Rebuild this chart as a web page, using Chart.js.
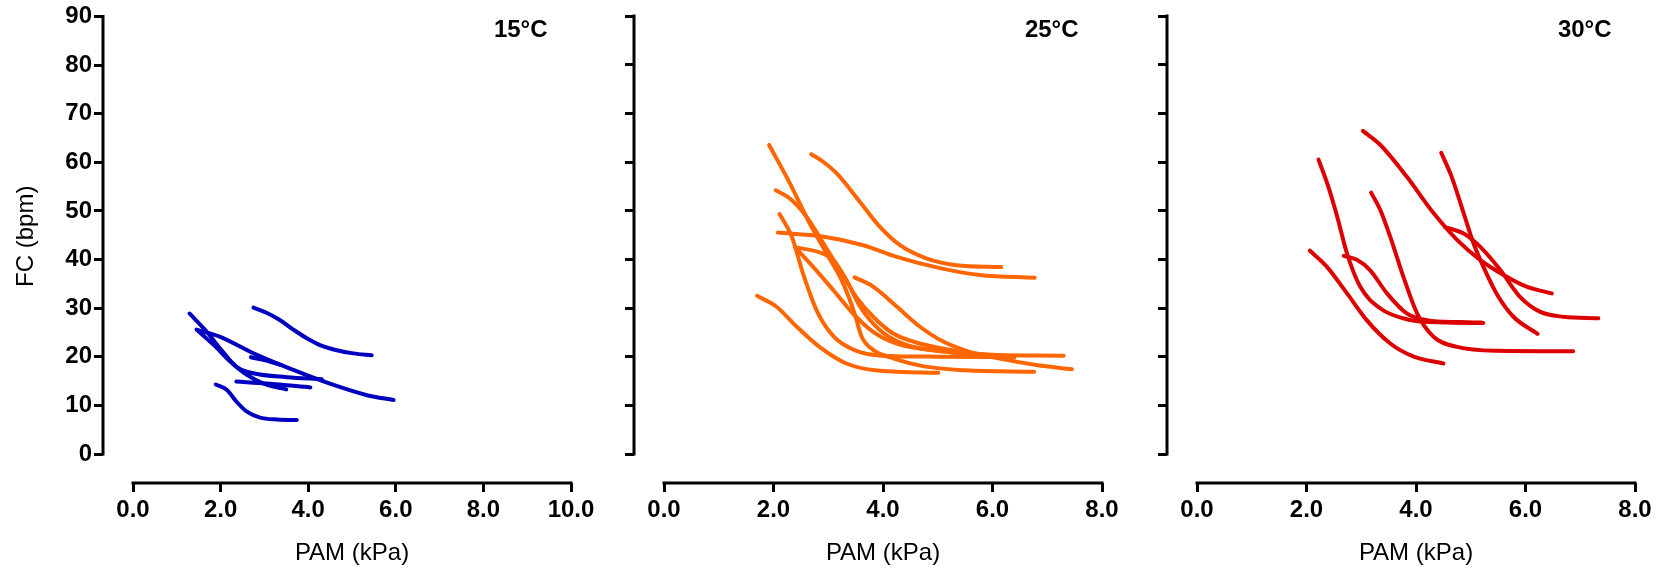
<!DOCTYPE html>
<html>
<head>
<meta charset="utf-8">
<title>FC vs PAM</title>
<script src="https://cdn.jsdelivr.net/npm/chart.js@4.4.1/dist/chart.umd.min.js"></script>
<style>
    body { margin: 0; background: #fff; }
    #wrap { position: relative; width: 1667px; height: 569px; }
    canvas { position: absolute; top: 0; }
</style>
</head>
<body>
<div id="wrap">
    <canvas id="c15" width="600" height="569" style="left:0px"></canvas>
    <canvas id="c25" width="530" height="569" style="left:600px"></canvas>
    <canvas id="c30" width="537" height="569" style="left:1130px"></canvas>
</div>
<script>
// Tick labels
const yTicks = [0, 10, 20, 30, 40, 50, 60, 70, 80, 90];
const xTicks15 = [0, 2, 4, 6, 8, 10];
const xTicks25 = [0, 2, 4, 6, 8];
const xTicks30 = [0, 2, 4, 6, 8];
const panelTitles = ['15°C', '25°C', '30°C'];

// One curve per fish, [PAM (kPa), FC (bpm)]
const curves15 = [
    [[2.75, 30.1], [3.06, 29.0], [3.36, 27.5], [3.66, 25.6], [3.97, 23.8], [4.27, 22.4], [4.58, 21.5], [5.03, 20.7], [5.45, 20.3]],
    [[1.47, 25.5], [1.99, 24.1], [2.75, 20.7], [3.66, 17.3], [4.58, 14.2], [5.34, 12.1], [5.95, 11.1]],
    [[1.29, 28.9], [1.69, 25.1], [1.99, 21.7], [2.37, 17.9], [2.75, 16.6], [3.51, 15.8], [4.31, 15.4]],
    [[1.45, 25.6], [1.85, 22.4], [2.2, 19.2], [2.6, 16.3], [3.0, 14.4], [3.5, 13.3]],
    [[2.69, 19.9], [3.0, 19.3], [3.38, 18.3]],
    [[2.36, 14.9], [3.06, 14.5], [4.05, 13.7]],
    [[1.89, 14.3], [2.14, 13.2], [2.37, 10.7], [2.6, 8.7], [2.9, 7.5], [3.29, 7.1], [3.74, 7.0]]
];

const curves25 = [
    [[2.69, 61.6], [2.9, 60.1], [3.15, 57.7], [3.58, 51.8], [3.94, 46.7], [4.31, 42.9], [4.79, 40.2], [5.34, 38.8], [6.16, 38.4]],
    [[2.08, 45.5], [2.9, 44.7], [3.64, 42.9], [4.25, 40.5], [5.04, 38.2], [5.77, 36.8], [6.77, 36.2]],
    [[1.92, 63.5], [2.3, 55.6], [2.66, 47.4], [2.97, 41.2], [3.27, 35.1], [3.48, 28.9], [3.61, 24.1], [3.82, 21.4], [4.2, 19.6], [4.75, 18.0], [5.5, 17.2], [6.76, 16.9]],
    [[2.04, 54.2], [2.3, 52.5], [2.6, 48.8], [2.91, 43.3], [3.21, 37.8], [3.51, 32.3], [3.82, 28.2], [4.18, 24.8], [4.67, 22.7], [5.46, 21.0], [6.4, 19.8]],
    [[2.11, 49.3], [2.33, 44.8], [2.55, 36.7], [2.8, 29.2], [3.11, 24.0], [3.49, 21.3], [3.99, 20.2], [5.0, 20.0], [6.37, 19.9]],
    [[2.39, 42.5], [2.9, 41.2], [3.09, 39.9], [3.33, 35.8], [3.58, 30.3], [3.94, 25.5], [4.43, 22.4], [5.16, 21.0], [6.0, 20.4], [7.3, 20.2]],
    [[2.45, 41.8], [2.72, 38.5], [3.09, 33.7], [3.45, 28.9], [3.82, 25.1], [4.25, 22.7], [5.16, 21.0], [5.9, 20.0]],
    [[3.48, 36.3], [3.82, 34.4], [4.25, 30.3], [4.67, 26.2], [5.1, 23.1], [5.58, 21.0], [6.13, 19.6], [6.8, 18.3], [7.45, 17.4]],
    [[1.7, 32.5], [2.05, 30.3], [2.42, 26.2], [2.84, 22.0], [3.33, 18.6], [3.94, 17.1], [5.01, 16.7]]
];

const curves30 = [
    [[3.03, 66.4], [3.35, 63.5], [3.83, 57.0], [4.32, 49.5], [4.75, 44.0], [5.17, 39.9], [5.6, 36.8], [6.02, 34.4], [6.48, 33.0]],
    [[4.46, 61.9], [4.65, 57.0], [4.87, 49.5], [5.05, 43.3], [5.23, 38.5], [5.47, 33.0], [5.78, 28.2], [6.22, 24.7]],
    [[4.53, 46.6], [4.87, 45.3], [5.17, 42.6], [5.54, 37.8], [5.9, 32.3], [6.27, 29.2], [6.69, 28.2], [7.33, 27.9]],
    [[2.22, 60.5], [2.4, 54.9], [2.56, 48.8], [2.74, 41.2], [2.98, 34.4], [3.35, 29.9], [3.83, 27.7], [4.56, 27.0], [5.23, 26.9]],
    [[3.18, 53.7], [3.35, 50.1], [3.53, 44.6], [3.77, 36.4], [4.02, 28.9], [4.32, 24.1], [4.75, 22.0], [5.47, 21.2], [6.87, 21.1]],
    [[2.68, 40.7], [2.92, 39.9], [3.16, 37.8], [3.47, 33.0], [3.83, 28.9], [4.2, 27.5], [4.8, 27.1], [5.2, 27.0]],
    [[2.06, 41.8], [2.37, 38.5], [2.74, 33.0], [3.1, 27.5], [3.53, 22.7], [3.96, 20.0], [4.5, 18.6]]
];

Chart.defaults.font.family = '"Liberation Sans", Arial, Helvetica, sans-serif';
Chart.defaults.color = '#000';

// Prism-style offset axes: lines only span the tick range, titles centred on them
const prismAxes = {
    id: 'prismAxes',
    afterDraw(chart, args, opts) {
        const { ctx, chartArea, scales: { x, y } } = chart;
        const xa = x.getPixelForValue(opts.xFrom);
        const xb = x.getPixelForValue(opts.xTo);
        const ya = y.getPixelForValue(opts.yFrom);
        const yb = y.getPixelForValue(opts.yTo);

        ctx.save();
        ctx.strokeStyle = '#000';
        ctx.lineWidth = 3;
        ctx.beginPath();
        ctx.moveTo(chartArea.left, ya + 1.5);
        ctx.lineTo(chartArea.left, yb - 1.5);
        ctx.moveTo(xa - 1.5, chartArea.bottom);
        ctx.lineTo(xb + 1.5, chartArea.bottom);
        ctx.stroke();

        ctx.fillStyle = '#000';
        ctx.textBaseline = 'alphabetic';
        ctx.font = '24px ' + Chart.defaults.font.family;
        ctx.textAlign = 'center';
        ctx.fillText(opts.xTitle, (xa + xb) / 2, 560);

        if (opts.yTitle) {
            ctx.save();
            ctx.translate(32.5, (ya + yb) / 2 + 1);
            ctx.rotate(-Math.PI / 2);
            ctx.fillText(opts.yTitle, 0, 0);
            ctx.restore();
        }

        ctx.font = 'bold 24px ' + Chart.defaults.font.family;
        ctx.textAlign = 'right';
        ctx.fillText(opts.label, xb - 23.5, 36.7);
        ctx.restore();
    }
};

function makePanel(id, curves, color, xTicks, label, axisWidth, padRight, showYLabels) {
    const xMax = xTicks[xTicks.length - 1];
    // leave a 30px gap between the y axis line and x = 0
    const xMin = -30 * xMax / (468 - 30);
    const yMin = -29 * 90 / (467 - 29);

    const datasets = curves.map(pts => ({
        data: pts.map(p => ({ x: p[0], y: p[1] })),
        showLine: true,
        borderColor: color,
        borderWidth: 4,
        borderCapStyle: 'round',
        pointRadius: 0,
        cubicInterpolationMode: 'monotone',
        fill: false
    }));

    return new Chart(document.getElementById(id).getContext('2d'), {
        type: 'scatter',
        data: { datasets: datasets },
        options: {
            responsive: false,
            animation: false,
            layout: { padding: { top: 16, right: padRight, bottom: 0, left: 0 } },
            plugins: {
                legend: { display: false },
                tooltip: { enabled: false },
                prismAxes: {
                    xFrom: 0, xTo: xMax, yFrom: 0, yTo: 90,
                    xTitle: 'PAM (kPa)',
                    yTitle: showYLabels ? 'FC (bpm)' : null,
                    label: label
                }
            },
            scales: {
                x: {
                    type: 'linear',
                    min: xMin,
                    max: xMax,
                    afterBuildTicks: s => { s.ticks = xTicks.map(v => ({ value: v })); },
                    afterFit: s => { s.height = 86; },
                    border: { display: false },
                    grid: { drawOnChartArea: false, drawTicks: true, tickLength: 9, lineWidth: 3, color: '#000' },
                    ticks: {
                        color: '#000',
                        font: { size: 24, weight: 'bold' },
                        padding: 4,
                        maxRotation: 0,
                        autoSkip: false,
                        callback: v => Number(v).toFixed(1)
                    }
                },
                y: {
                    type: 'linear',
                    min: yMin,
                    max: 90,
                    afterBuildTicks: s => { s.ticks = yTicks.map(v => ({ value: v })); },
                    afterFit: s => { s.width = axisWidth; },
                    border: { display: false },
                    grid: { drawOnChartArea: false, drawTicks: true, tickLength: 9, lineWidth: 3, color: '#000' },
                    ticks: {
                        display: showYLabels,
                        color: '#000',
                        font: { size: 24, weight: 'bold' },
                        padding: 2,
                        autoSkip: false,
                        callback: v => String(v)
                    }
                }
            }
        },
        plugins: [prismAxes]
    });
}

makePanel('c15', curves15, '#0000bf', xTicks15, panelTitles[0], 103, 29, true);
makePanel('c25', curves25, '#ff6600', xTicks25, panelTitles[1], 34, 28, false);
makePanel('c30', curves30, '#dd0000', xTicks30, panelTitles[2], 37, 32, false);
</script>
</body>
</html>
